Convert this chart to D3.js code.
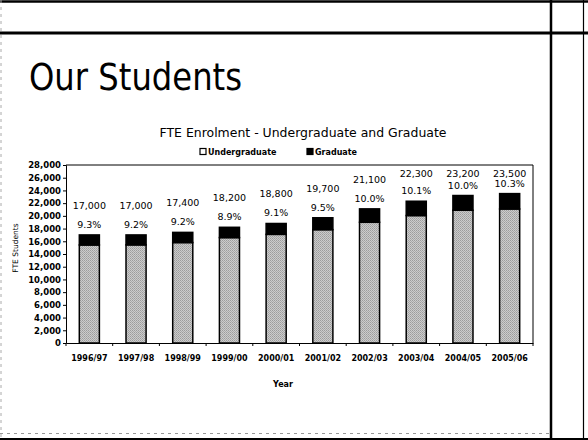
<!DOCTYPE html>
<html>
<head>
<meta charset="utf-8">
<script src="https://cdn.jsdelivr.net/npm/d3@7"></script>
<style>
  html, body { margin: 0; padding: 0; background: #fff; }
  svg { display: block; }
  text { font-family: "DejaVu Sans", Verdana, sans-serif; fill: #000; }
</style>
</head>
<body>
<svg id="chart" width="588" height="440"></svg>
<script>
// ---- data ----
const years = ["1996/97","1997/98","1998/99","1999/00","2000/01","2001/02","2002/03","2003/04","2004/05","2005/06"];
const totals = [17000,17000,17400,18200,18800,19700,21100,22300,23200,23500];
const gradPct = [9.3,9.2,9.2,8.9,9.1,9.5,10.0,10.1,10.0,10.3];
const yTicks = [0,2000,4000,6000,8000,10000,12000,14000,16000,18000,20000,22000,24000,26000,28000];
const seriesNames = ["Undergraduate","Graduate"];

const rows = years.map((y,i) => {
  const grad = totals[i] * gradPct[i] / 100;
  return { year: y, Undergraduate: totals[i] - grad, Graduate: grad, total: totals[i], pct: gradPct[i] };
});

const svg = d3.select("#chart");

// ---- slide frame ----
const frame = svg.append("g");
frame.append("line").attr("x1",0).attr("x2",588).attr("y1",1.5).attr("y2",1.5).attr("stroke","#000").attr("stroke-width",2.5);
frame.append("line").attr("x1",0).attr("x2",588).attr("y1",33).attr("y2",33).attr("stroke","#000").attr("stroke-width",3);
frame.append("line").attr("x1",551).attr("x2",551).attr("y1",0).attr("y2",440).attr("stroke","#000").attr("stroke-width",2.5);
frame.append("line").attr("x1",583.5).attr("x2",583.5).attr("y1",0).attr("y2",440).attr("stroke","#000").attr("stroke-width",1.2);
frame.append("line").attr("x1",0).attr("x2",588).attr("y1",439).attr("y2",439).attr("stroke","#000").attr("stroke-width",2);
frame.append("line").attr("x1",0).attr("x2",550).attr("y1",433.5).attr("y2",433.5).attr("stroke","#999").attr("stroke-width",1).attr("stroke-dasharray","3,4");
frame.append("line").attr("x1",1).attr("x2",1).attr("y1",0).attr("y2",440).attr("stroke","#aaa").attr("stroke-width",1).attr("stroke-dasharray","3,4");

// ---- slide title ----
svg.append("text").attr("x",29).attr("y",90)
  .attr("font-size",37).attr("textLength",213).attr("lengthAdjust","spacingAndGlyphs")
  .text("Our Students");

// ---- chart ----
const m = { left: 66, right: 533, top: 165, bottom: 343 };
const x = d3.scaleBand().domain(years).range([m.left, m.right]).paddingInner(0.57).paddingOuter(0.285);
const y = d3.scaleLinear().domain([0,28000]).range([m.bottom, m.top]);

// dither-like pattern
const defs = svg.append("defs");
const pat = defs.append("pattern").attr("id","dither").attr("width",2).attr("height",2).attr("patternUnits","userSpaceOnUse");
pat.append("rect").attr("width",2).attr("height",2).attr("fill","#cccccc");
pat.append("rect").attr("width",1).attr("height",1).attr("fill","#9c9c9c");
pat.append("rect").attr("x",1).attr("y",1).attr("width",1).attr("height",1).attr("fill","#aaaaaa");

// plot border (top, right)
svg.append("path").attr("d",`M${m.left},${m.top}H${m.right}V${m.bottom}`).attr("fill","none").attr("stroke","#000").attr("stroke-width",1);

const stack = d3.stack().keys(seriesNames)(rows);
const fills = { Undergraduate: "url(#dither)", Graduate: "#000" };

svg.append("g").selectAll("g").data(stack).join("g")
  .attr("fill", d => fills[d.key])
  .selectAll("rect").data(d => d).join("rect")
  .attr("x", d => x(d.data.year))
  .attr("width", x.bandwidth())
  .attr("y", d => y(d[1]))
  .attr("height", d => y(d[0]) - y(d[1]))
  .attr("stroke","#000").attr("stroke-width",1.5);

// value labels
const lbl = svg.append("g").attr("font-size",9.5).attr("text-anchor","middle");
rows.forEach(r => {
  const cx = x(r.year) + x.bandwidth()/2;
  const top = y(r.total);
  const pctY = top - 7;
  const totY = Math.max(top - 26, 177);
  lbl.append("text").attr("x",cx).attr("y",pctY).text(r.pct.toFixed(1) + "%");
  lbl.append("text").attr("x",cx).attr("y",totY).text(d3.format(",")(r.total));
});

// axes
const yAxis = d3.axisLeft(y).tickValues(yTicks).tickFormat(d3.format(",")).tickSize(3).tickPadding(2);
const gy = svg.append("g").attr("transform",`translate(${m.left},0)`).call(yAxis);
gy.select(".domain").attr("stroke","#000");
gy.selectAll("text").attr("font-size",8.5).attr("font-weight","bold").attr("font-family","DejaVu Sans");

const xAxis = d3.axisBottom(x).tickSize(0).tickPadding(12);
const gx = svg.append("g").attr("transform",`translate(0,${m.bottom})`).call(xAxis);
gx.select(".domain").attr("stroke","#000");
gx.selectAll("text").attr("font-size",8).attr("font-weight","bold").attr("font-family","DejaVu Sans");
// ticks between categories
const step = x.step();
gx.selectAll(".sep").data(d3.range(years.length + 1)).join("line")
  .attr("x1", i => m.left + i*step).attr("x2", i => m.left + i*step)
  .attr("y1",0).attr("y2",3).attr("stroke","#000");

// titles
svg.append("text").attr("x",303).attr("y",137).attr("text-anchor","middle").attr("font-size",11.5)
  .attr("textLength",287).attr("lengthAdjust","spacingAndGlyphs")
  .text("FTE Enrolment - Undergraduate and Graduate");
svg.append("text").attr("x",283).attr("y",387).attr("text-anchor","middle").attr("font-size",8).attr("font-weight","bold").text("Year");
svg.append("text").attr("transform","translate(18,248) rotate(-90)").attr("text-anchor","middle").attr("font-size",7.5).text("FTE Students");

// legend
const legend = svg.append("g").attr("font-size",8).attr("font-weight","bold");
const legX = [200, 307];
seriesNames.forEach((s,i) => {
  legend.append("rect").attr("x",legX[i]).attr("y",148.5).attr("width",6).attr("height",6)
    .attr("fill", i === 0 ? "#fff" : "#000").attr("stroke","#000").attr("stroke-width",1.2);
  legend.append("text").attr("x",legX[i]+8).attr("y",155).text(s);
});
</script>
</body>
</html>
